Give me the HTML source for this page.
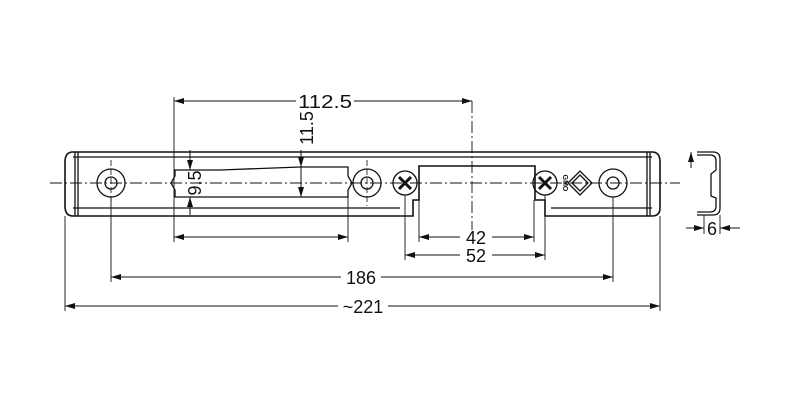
<!DOCTYPE html>
<html><head><meta charset="utf-8"><style>
html,body{margin:0;padding:0;background:#fff;}
svg{display:block;}
text{font-family:"Liberation Sans",sans-serif;fill:#111;}
</style></head><body>
<svg width="800" height="400" viewBox="0 0 800 400" xmlns="http://www.w3.org/2000/svg">
<defs>
<marker id="a" viewBox="0 0 10 6" refX="10" refY="3" markerWidth="10" markerHeight="6" orient="auto-start-reverse" markerUnits="userSpaceOnUse">
<path d="M0,0 L10,3 L0,6 z" fill="#111"/></marker>
</defs>
<g stroke="#111" stroke-width="1.3" fill="none">
<line x1="50" y1="183" x2="680" y2="183" stroke-dasharray="12,3,2,3" stroke-width="0.9"/>
<line x1="472" y1="101" x2="472" y2="230" stroke-dasharray="12,3,2,3" stroke-width="0.9"/>
<path d="M73,152 L652,152 Q660,152 660,162 L660,208 Q660,216 652,216 L545,216 L545,200 L535,200 L535,166 L419,166 L419,200 L413,200 L413,216 L73,216 Q65,216 65,206 L65,162 Q65,152 73,152 Z" stroke-width="1.6"/>
<line x1="73" y1="157" x2="652" y2="157"/>
<line x1="73" y1="208" x2="400" y2="208"/>
<line x1="551" y1="208" x2="652" y2="208"/>
<line x1="75" y1="152" x2="75" y2="216"/>
<line x1="78" y1="152" x2="78" y2="216"/>
<line x1="647" y1="152" x2="647" y2="216"/>
<line x1="650" y1="152" x2="650" y2="216"/>
<circle cx="111" cy="183" r="14"/><circle cx="111" cy="183" r="6"/>
<circle cx="367" cy="183" r="14"/><circle cx="367" cy="183" r="6"/>
<circle cx="613" cy="183" r="14"/><circle cx="613" cy="183" r="6"/>
<line x1="111" y1="160" x2="111" y2="206" stroke-dasharray="6,3" stroke-width="0.8"/>
<line x1="367" y1="160" x2="367" y2="206" stroke-dasharray="6,3" stroke-width="0.8"/>
<circle cx="405" cy="183" r="12"/>
<circle cx="545" cy="183" r="12"/>
<path d="M399,177 L411,189 M411,177 L399,189" stroke-width="3"/>
<path d="M539,177 L551,189 M551,177 L539,189" stroke-width="3"/>
<path d="M175,170 L220,170 L300,167 L348,167 L348,176 L352,183 L348,190 L348,197 L175,197 L175,190 L171,183 L175,176 Z"/>
<path d="M568,183 L580,171 L592,183 L580,195 Z M572,183 L580,175 L588,183 L580,191 Z"/>
<line x1="174" y1="97" x2="174" y2="242" stroke-width="0.9"/>
<line x1="348" y1="197" x2="348" y2="242" stroke-width="0.9"/>
<line x1="419" y1="200" x2="419" y2="242" stroke-width="0.9"/>
<line x1="534" y1="200" x2="534" y2="242" stroke-width="0.9"/>
<line x1="405" y1="195" x2="405" y2="260" stroke-width="0.9"/>
<line x1="545" y1="195" x2="545" y2="260" stroke-width="0.9"/>
<line x1="111" y1="197" x2="111" y2="282" stroke-width="0.9"/>
<line x1="613" y1="197" x2="613" y2="282" stroke-width="0.9"/>
<line x1="65" y1="216" x2="65" y2="311" stroke-width="0.9"/>
<line x1="660" y1="216" x2="660" y2="311" stroke-width="0.9"/>
<g stroke-width="1">
<line x1="174" y1="101" x2="296" y2="101" marker-start="url(#a)"/>
<line x1="354" y1="101" x2="472" y2="101" marker-end="url(#a)"/>
<line x1="174" y1="237" x2="348" y2="237" marker-start="url(#a)" marker-end="url(#a)"/>
<line x1="419" y1="237" x2="460" y2="237" marker-start="url(#a)"/>
<line x1="492" y1="237" x2="534" y2="237" marker-end="url(#a)"/>
<line x1="405" y1="255" x2="460" y2="255" marker-start="url(#a)"/>
<line x1="492" y1="255" x2="545" y2="255" marker-end="url(#a)"/>
<line x1="111" y1="277" x2="341" y2="277" marker-start="url(#a)"/>
<line x1="381" y1="277" x2="613" y2="277" marker-end="url(#a)"/>
<line x1="65" y1="306" x2="338" y2="306" marker-start="url(#a)"/>
<line x1="388" y1="306" x2="660" y2="306" marker-end="url(#a)"/>
<line x1="190" y1="150" x2="190" y2="170" marker-end="url(#a)"/>
<line x1="190" y1="215" x2="190" y2="197" marker-end="url(#a)"/>
<line x1="301" y1="150" x2="301" y2="167" marker-end="url(#a)"/>
<line x1="301" y1="167" x2="301" y2="197" marker-end="url(#a)"/>
<line x1="686" y1="228" x2="704" y2="228" marker-end="url(#a)"/>
<line x1="740" y1="228" x2="720" y2="228" marker-end="url(#a)"/>
<line x1="691" y1="168" x2="691" y2="152" marker-end="url(#a)"/>
</g>
<path d="M697,152 L713,152 Q720,152 720,159 L720,208 Q720,215 713,215 L697,215"/>
<path d="M697,155 L710,155 Q716,155 716,161 L716,170 L711,174 L711,196 L716,198 L716,206 Q716,212 710,212 L697,212"/>
<line x1="704" y1="215" x2="704" y2="234" stroke-width="0.9"/>
<line x1="720" y1="215" x2="720" y2="234" stroke-width="0.9"/>
</g>
<g font-size="18">
<text x="325" y="108" text-anchor="middle" textLength="54" lengthAdjust="spacingAndGlyphs">112.5</text>
<text x="476" y="244" text-anchor="middle">42</text>
<text x="476" y="262" text-anchor="middle">52</text>
<text x="361" y="284" text-anchor="middle">186</text>
<text x="363" y="313" text-anchor="middle">~221</text>
<text x="712" y="235" text-anchor="middle">6</text>
<text transform="translate(313,128) rotate(-90)" text-anchor="middle">11.5</text>
<text transform="translate(201,183) rotate(-90)" text-anchor="middle">9.5</text>
</g>
<text transform="translate(563,183) rotate(90)" text-anchor="middle" font-size="7" font-weight="bold">GMO</text>
</svg>
</body></html>
